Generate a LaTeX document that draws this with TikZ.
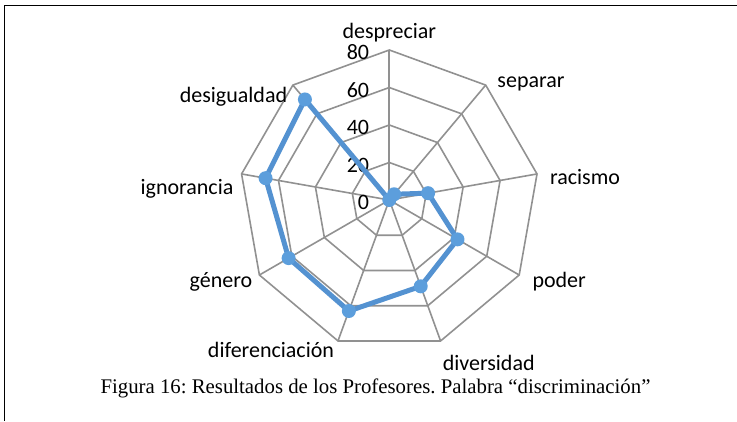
\documentclass[tikz,border=0pt]{standalone}
\usepackage{fontspec}
\setmainfont{Liberation Serif}
\newfontfamily\chartfont{Carlito}
\usetikzlibrary{calc}
\definecolor{gridgray}{RGB}{145,145,145}
\definecolor{serieblue}{RGB}{84,146,209}
\definecolor{markblue}{RGB}{92,158,220}
\frenchspacing

\begin{document}
\begin{tikzpicture}[x=1pt,y=1pt,
    rejilla/.style={draw=gridgray,line width=1.6pt},
    serie/.style={draw=serieblue,line width=5pt,line join=round},
    punto/.style={circle,fill=markblue,inner sep=0pt,minimum size=14pt},
    cat/.style={font=\chartfont\fontsize{22}{26}\selectfont,inner sep=0pt},
    escala/.style={font=\chartfont\fontsize{22}{26}\selectfont,anchor=east,inner sep=0pt}]
    \useasboundingbox (-389.3,-221) rectangle (347.7,200);
    % marco
    \draw [line width=1.6pt] (347.7,194.5) -- (-384.8,194.5) -- (-384.8,-221);
    % rejilla
    \coordinate (o) at (0,0);
    \foreach \r in {37.5,75,112.5,150}
        \draw [rejilla] (90:\r) \foreach \a in {50,10,...,-230} { -- (\a:\r) } -- cycle;
    \foreach \a [count=\i] in {90,50,...,-230} {
        \coordinate (v\i) at (\a:150);
        \draw [rejilla] (o) -- (v\i);
    }
    % escala
    \node [escala] (e0) at (-20,-2.5) {0};
    \node [escala] (e20) at (-20,35) {20};
    \node [escala] (e40) at (-20,72.5) {40};
    \node [escala] (e60) at (-20,110) {60};
    \node [escala] (e80) at (-20,147.5) {80};
    % datos
    \foreach \a/\v [count=\i] in {90/0,50/4,10/21,-30/42,-70/49,-110/63,-150/62,-190/67,-230/70}
        \coordinate (p\i) at (\a:1.875*\v);
    \draw [serie] (p1) -- (p2) -- (p3) -- (p4) -- (p5) -- (p6) -- (p7) -- (p8) -- (p9) -- cycle;
    \foreach \i in {1,...,9}
        \node [punto] (m\i) at (p\i) {};
    % categorias
    \node [cat] (despreciar) at (0,167) {despreciar};
    \node [cat] (separar) at (141.7,116) {separar};
    \node [cat] (racismo) at (195.7,23.3) {racismo};
    \node [cat] (poder) at (169.9,-81.7) {poder};
    \node [cat] (diversidad) at (99.4,-163.3) {diversidad};
    \node [cat] (diferenciacion) at (-118.3,-150) {diferenciación};
    \node [cat] (genero) at (-168.4,-81.7) {género};
    \node [cat] (ignorancia) at (-202.3,10.7) {ignorancia};
    \node [cat] (desigualdad) at (-155.8,103.3) {desigualdad};
    % pie
    \node [font=\fontsize{20.8}{24}\selectfont,inner sep=0pt] (pie) at (-13.8,-188)
        {Figura 16: Resultados de los Profesores. Palabra “discriminación”};
\end{tikzpicture}
\end{document}
